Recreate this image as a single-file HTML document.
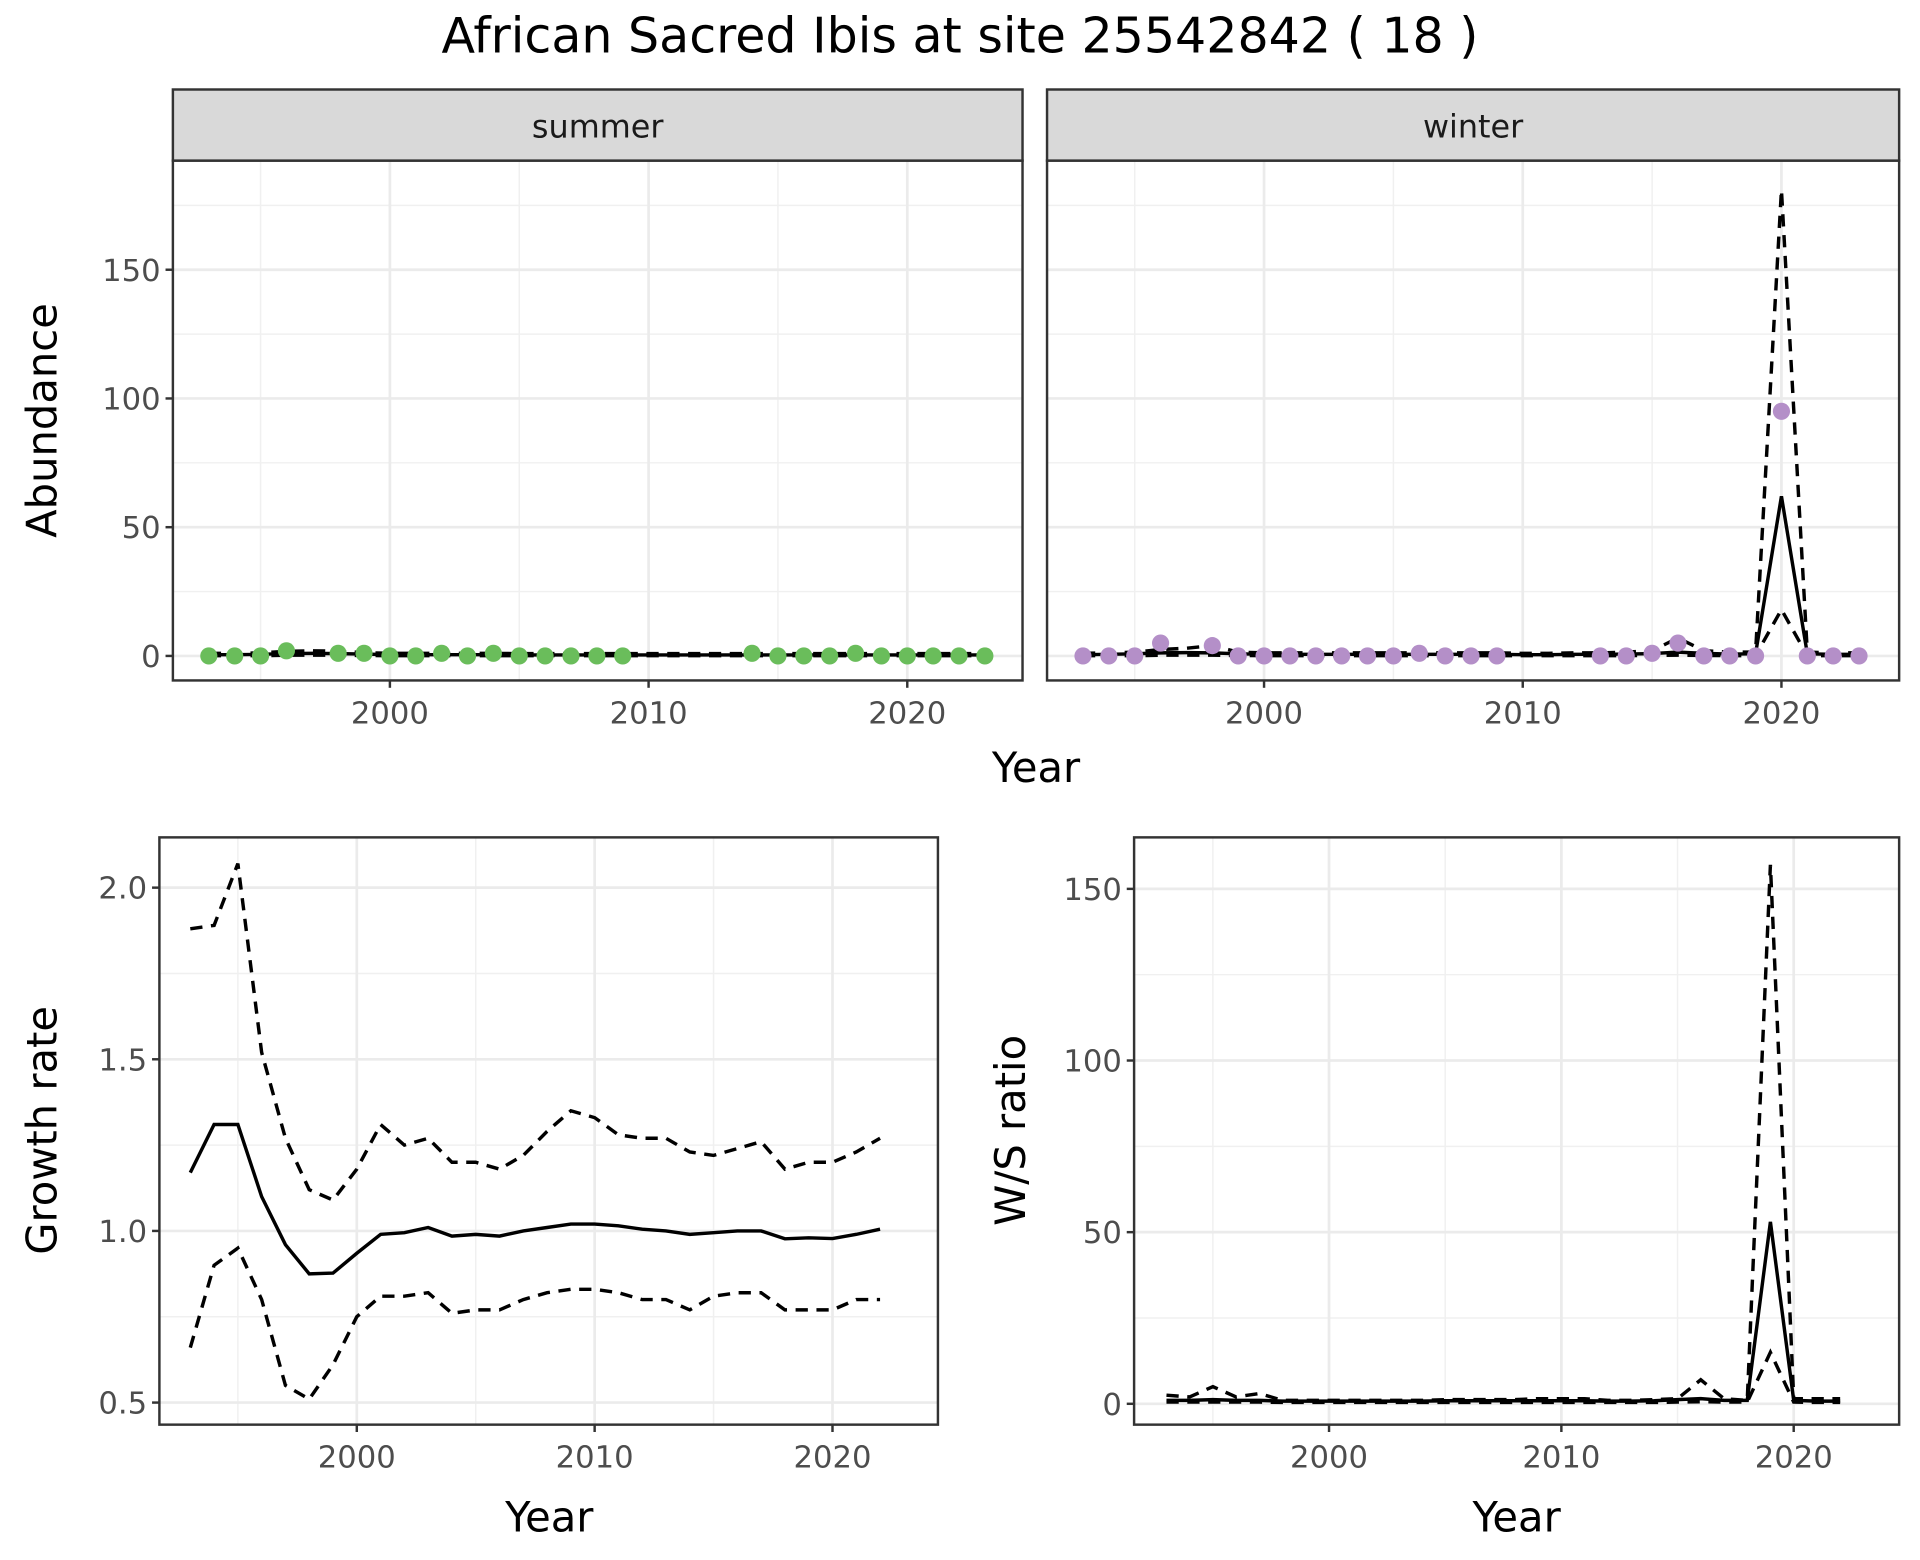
<!DOCTYPE html>
<html><head><meta charset="utf-8"><style>
html,body{margin:0;padding:0;background:#fff;}
svg{display:block;font-family:"DejaVu Sans","Liberation Sans",sans-serif;}
</style></head><body>
<svg id="chart" width="1920" height="1560" viewBox="0 0 1566 1272.4" xmlns="http://www.w3.org/2000/svg"></svg>
<script>
// ---- data ----
const sumYears = [1993,1994,1995,1996,1998,1999,2000,2001,2002,2003,2004,2005,2006,2007,2008,2009,2014,2015,2016,2017,2018,2019,2020,2021,2022,2023];
const sumCounts = [0,0,0,2,1,1,0,0,1,0,1,0,0,0,0,0,1,0,0,0,1,0,0,0,0,0];
const sumLineYears = [1993,1994,1995,1996,1997,1998,1999,2000,2001,2002,2003,2004,2005,2006,2007,2008,2009,2010,2011,2012,2013,2014,2015,2016,2017,2018,2019,2020,2021,2022,2023];
const sumMean = [0.5,0.5,0.6,0.9,1,0.9,0.7,0.5,0.5,0.5,0.5,0.5,0.4,0.4,0.4,0.4,0.4,0.4,0.4,0.4,0.4,0.4,0.4,0.4,0.4,0.4,0.4,0.4,0.4,0.4,0.4];
const sumUpper = [1,1,1.2,1.8,2,1.8,1.3,1,1,1,1,1,0.9,0.9,0.9,0.9,0.9,0.9,0.9,0.9,0.9,0.9,0.9,0.9,0.9,0.9,0.9,0.9,0.9,0.9,0.9];
const sumLower = [0.1,0.1,0.1,0.3,0.3,0.3,0.2,0.1,0.1,0.1,0.1,0.1,0.1,0.1,0.1,0.1,0.1,0.1,0.1,0.1,0.1,0.1,0.1,0.1,0.1,0.1,0.1,0.1,0.1,0.1,0.1];
const winYears = [1993,1994,1995,1996,1998,1999,2000,2001,2002,2003,2004,2005,2006,2007,2008,2009,2013,2014,2015,2016,2017,2018,2019,2020,2021,2022,2023];
const winCounts = [0,0,0,5,4,0,0,0,0,0,0,0,1,0,0,0,0,0,1,5,0,0,0,95,0,0,0];
const winLineYears = sumLineYears;
const winMean = [0.5,0.6,0.8,1.2,1.3,1.2,0.8,0.6,0.6,0.6,0.6,0.6,0.6,0.6,0.6,0.6,0.6,0.5,0.5,0.6,0.6,0.7,0.9,1.5,1,0.7,0.8,62,0.8,0.6,0.6];
const winUpper = [1,1.2,1.5,2.5,3,4,1.5,1.2,1.2,1.2,1.2,1.2,1.2,1.2,1.2,1.2,1.2,1,1,1.2,1.2,1.5,2,7,2,1.5,1.5,181,1.5,1.2,1.2];
const winLower = [0.1,0.1,0.1,0.3,0.3,0.3,0.2,0.1,0.1,0.1,0.1,0.1,0.1,0.1,0.1,0.1,0.1,0.1,0.1,0.1,0.1,0.1,0.2,0.3,0.2,0.1,0.1,18,0.1,0.1,0.1];
const grYears = [1993,1994,1995,1996,1997,1998,1999,2000,2001,2002,2003,2004,2005,2006,2007,2008,2009,2010,2011,2012,2013,2014,2015,2016,2017,2018,2019,2020,2021,2022];
const grMean = [1.17,1.31,1.31,1.10,0.96,0.875,0.877,0.935,0.99,0.995,1.01,0.985,0.99,0.985,1.0,1.01,1.02,1.02,1.015,1.005,1.0,0.99,0.995,1.0,1.0,0.977,0.98,0.978,0.99,1.005];
const grUpper = [1.88,1.89,2.07,1.52,1.27,1.12,1.09,1.18,1.31,1.25,1.27,1.20,1.20,1.18,1.22,1.29,1.35,1.33,1.28,1.27,1.27,1.23,1.22,1.24,1.26,1.18,1.20,1.20,1.23,1.27];
const grLower = [0.66,0.90,0.95,0.80,0.55,0.51,0.61,0.75,0.81,0.81,0.82,0.76,0.77,0.77,0.80,0.82,0.83,0.83,0.82,0.80,0.80,0.77,0.81,0.82,0.82,0.77,0.77,0.77,0.80,0.80];
const wsYears = grYears;
const wsMean = [1,1,1.2,1,1,0.8,0.8,0.8,0.8,0.8,0.8,0.8,0.9,0.9,0.9,0.9,0.9,0.9,0.9,0.8,0.8,0.9,1.2,1.5,1,1,53,1,0.8,0.8];
const wsUpper = [2.5,2,5,2,3,1,1,1,1,1,1,1,1.2,1.2,1.2,1.2,1.5,1.5,1.5,1,1,1.2,1.5,7,1.5,1,157,1.5,1.5,1.5];
const wsLower = [0.5,0.5,0.5,0.5,0.5,0.4,0.4,0.4,0.4,0.4,0.4,0.4,0.4,0.4,0.4,0.4,0.4,0.4,0.4,0.4,0.4,0.4,0.5,0.6,0.5,0.5,15,0.5,0.4,0.4];
const abundTicks = [0,50,100,150];
const grTicks = [0.5,1.0,1.5,2.0];
const wsTicks = [0,50,100,150];
const yearTicks = [2000,2010,2020];

const svg = document.getElementById('chart');
const NS = 'http://www.w3.org/2000/svg';
function mk(tag, attrs, parent){const e=document.createElementNS(NS,tag);for(const k in attrs)e.setAttribute(k,attrs[k]);(parent||svg).appendChild(e);return e;}
function txt(s, attrs){const e=mk('text',attrs);e.textContent=s;return e;}

function panel(p){
  const g = mk('g',{});
  
  
  mk('rect',{x:p.x0,y:p.y0,width:p.x1-p.x0,height:p.y1-p.y0,fill:'#fff'},g);
  [1995,2005,2015].forEach(v=>{const x=p.xs(v);mk('line',{x1:x,x2:x,y1:p.y0,y2:p.y1,stroke:'#f0f0f0','stroke-width':1.2},g);});
  for(let i=0;i<p.yticks.length;i++){
    const a=p.yticks[i], b=i+1<p.yticks.length?p.yticks[i+1]:p.yticks[i]+(p.yticks[1]-p.yticks[0]);
    const y=p.ys((a+b)/2); if(y>p.y0) mk('line',{x1:p.x0,x2:p.x1,y1:y,y2:y,stroke:'#f0f0f0','stroke-width':1.2},g);
  }
  yearTicks.forEach(v=>{const x=p.xs(v);mk('line',{x1:x,x2:x,y1:p.y0,y2:p.y1,stroke:'#ebebeb','stroke-width':2.2},g);
    mk('line',{x1:x,x2:x,y1:p.y1,y2:p.y1+6,stroke:'#333','stroke-width':2},g);
    const t=txt(v,{x:x,y:p.y1+35,'font-size':25,fill:'#4d4d4d','text-anchor':'middle'});
    });
  p.yticks.forEach(v=>{const y=p.ys(v);mk('line',{x1:p.x0,x2:p.x1,y1:y,y2:y,stroke:'#ebebeb','stroke-width':2.2},g);
    if(p.showY){mk('line',{x1:p.x0-6,x2:p.x0,y1:y,y2:y,stroke:'#333','stroke-width':2},g);
    const t=txt(p.yfmt(v),{x:p.x0-10,y:y+9,'font-size':25,fill:'#4d4d4d','text-anchor':'end'});
    }});
  p.g=g; return p;
}
function line(p, xs, ys, dashed, name){
  const d = xs.map((x,i)=>(i?'L':'M')+p.xs(x).toFixed(1)+','+p.ys(ys[i]).toFixed(1)).join('');
  const e=mk('path',{d:d,fill:'none',stroke:'#000','stroke-width':2.8,'stroke-dasharray':dashed?'10,7':'none'});
  
  
}
function pts(p, xs, ys, col, name){
  xs.forEach((x,i)=>{const c=mk('circle',{cx:p.xs(x),cy:p.ys(ys[i]),r:7,fill:col});
    
    });
}
function border(p){const r=mk('rect',{x:p.x0,y:p.y0,width:p.x1-p.x0,height:p.y1-p.y0,fill:'none',stroke:'#333','stroke-width':2});
  }
function strip(x0,x1,label){
  const r=mk('rect',{x:x0,y:73,width:x1-x0,height:58,fill:'#d9d9d9',stroke:'#333','stroke-width':2});
  
  const t=txt(label,{x:(x0+x1)/2,y:112,'font-size':26,fill:'#1a1a1a','text-anchor':'middle'});
  
}
const lin=(d0,d1,r0,r1)=>v=>r0+(v-d0)*(r1-r0)/(d1-d0);

const title=txt('African Sacred Ibis at site 25542842 ( 18 )',{x:783,y:43,'font-size':40,fill:'#000','text-anchor':'middle'});


const abY = lin(0,150,535,220);
const pS = panel({x0:141,x1:834,y0:131,y1:555,xs:lin(2000,2020,318,740),ys:abY,yticks:abundTicks,yfmt:v=>v,showY:true,name:'summer-panel'});
line(pS,sumLineYears,sumUpper,true,'summer-upper-ci');
line(pS,sumLineYears,sumLower,true,'summer-lower-ci');
line(pS,sumLineYears,sumMean,false,'summer-mean');
pts(pS,sumYears,sumCounts,'#6abd5b','summer-point');
border(pS); strip(141,834,'summer');

const pW = panel({x0:854,x1:1549,y0:131,y1:555,xs:lin(2000,2020,1031,1453),ys:abY,yticks:abundTicks,yfmt:v=>v,showY:false,name:'winter-panel'});
line(pW,winLineYears,winUpper,true,'winter-upper-ci');
line(pW,winLineYears,winLower,true,'winter-lower-ci');
line(pW,winLineYears,winMean,false,'winter-mean');
pts(pW,winYears,winCounts,'#b48fc8','winter-point');
border(pW); strip(854,1549,'winter');

let t;
t=txt('Year',{x:845,y:638,'font-size':34,fill:'#000','text-anchor':'middle'});
t=txt('Abundance',{x:0,y:0,'font-size':34,fill:'#000','text-anchor':'middle',transform:'translate(46,343) rotate(-90)'});

const pG = panel({x0:130,x1:765,y0:683,y1:1162,xs:lin(2000,2020,291,679),ys:lin(0.5,2.0,1144,724),yticks:grTicks,yfmt:v=>v.toFixed(1),showY:true,name:'growth-rate-panel'});
line(pG,grYears,grUpper,true,'growth-upper-ci');
line(pG,grYears,grLower,true,'growth-lower-ci');
line(pG,grYears,grMean,false,'growth-mean');
border(pG);
t=txt('Year',{x:448,y:1249,'font-size':34,fill:'#000','text-anchor':'middle'});
t=txt('Growth rate',{x:0,y:0,'font-size':34,fill:'#000','text-anchor':'middle',transform:'translate(46,922) rotate(-90)'});

const pR = panel({x0:925,x1:1549,y0:683,y1:1162,xs:lin(2000,2020,1084,1463),ys:lin(0,150,1145,725),yticks:wsTicks,yfmt:v=>v,showY:true,name:'ws-ratio-panel'});
line(pR,wsYears,wsUpper,true,'ws-upper-ci');
line(pR,wsYears,wsLower,true,'ws-lower-ci');
line(pR,wsYears,wsMean,false,'ws-mean');
border(pR);
t=txt('Year',{x:1237,y:1249,'font-size':34,fill:'#000','text-anchor':'middle'});
t=txt('W/S ratio',{x:0,y:0,'font-size':34,fill:'#000','text-anchor':'middle',transform:'translate(836,922) rotate(-90)'});
</script>
</body></html>
